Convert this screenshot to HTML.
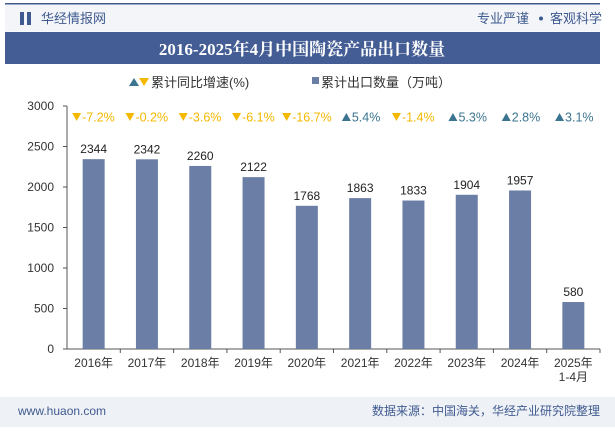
<!DOCTYPE html>
<html><head><meta charset="utf-8"><style>
body{margin:0;width:615px;height:427px;overflow:hidden;background:#fff;font-family:"Liberation Sans","Noto Sans CJK SC",sans-serif;}
#wrap{position:relative;width:615px;height:427px;}
</style></head><body>
<div id="wrap">
<svg id="svg" width="615" height="427" xmlns="http://www.w3.org/2000/svg" font-family="Liberation Sans, Noto Sans CJK SC, sans-serif">
<rect x="0" y="0" width="615" height="427" fill="#fff"/>
<rect x="5" y="3" width="595" height="1.5" fill="#3f5a8f"/>
<rect x="5" y="4.5" width="595" height="27" fill="#f3f5f9"/>
<g><rect x="20" y="12" width="4" height="13" fill="#3f5a8f"/><rect x="27" y="12" width="4" height="13" fill="#3f5a8f"/></g>
<text x="41" y="23" font-size="13" fill="#3f5a8f">华经情报网</text>
<text x="477" y="23" font-size="13" fill="#3f5a8f">专业严谨</text>
<circle cx="541" cy="18.5" r="2" fill="#3f5a8f"/>
<text x="550" y="23" font-size="13" fill="#3f5a8f">客观科学</text>
<rect x="5" y="32" width="595" height="32" fill="#445d95"/>
<text x="302" y="55" font-size="17" font-weight="bold" fill="#fff" text-anchor="middle" font-family="Liberation Serif, Noto Serif CJK SC, serif">2016-2025年4月中国陶瓷产品出口数量</text>
<g>
<polygon points="153,100 158,92 163,100" fill="#3b7491" transform="translate(-24,-14)"/>
<polygon points="139,78 149,78 144,86" fill="#f5b800"/>
<text x="151" y="87" font-size="13" fill="#333">累计同比增速(%)</text>
<rect x="312" y="77" width="7" height="7" fill="#6b7fa6"/>
<text x="321" y="87" font-size="13" fill="#333">累计出口数量（万吨）</text>
</g>
<g id="plot"></g>
<rect x="0" y="397" width="615" height="30" fill="#eef1f6"/>
<text x="18" y="415" font-size="12" fill="#3f5a8f">www.huaon.com</text>
<text x="600" y="415" font-size="12" fill="#3f5a8f" text-anchor="end">数据来源：中国海关，华经产业研究院整理</text>
</svg>
</div>
<script>
const categories=["2016年","2017年","2018年","2019年","2020年","2021年","2022年","2023年","2024年","2025年"];
const volumes=[2344,2342,2260,2122,1768,1863,1833,1904,1957,580];
const growth=[-7.2,-0.2,-3.6,-6.1,-16.7,5.4,-1.4,5.3,2.8,3.1];
const yTicks=[0,500,1000,1500,2000,2500,3000];
const NS="http://www.w3.org/2000/svg";
const x0=67,x1=600,y0=349,yTop=106,yMax=3000;
const band=(x1-x0)/categories.length;
const xs=i=>x0+band*(i+0.5);
const ys=v=>y0-(v/yMax)*(y0-yTop);
const g=document.getElementById('plot');
function mk(t,a,txt){const e=document.createElementNS(NS,t);for(const k in a)e.setAttribute(k,a[k]);if(txt!=null)e.textContent=txt;g.appendChild(e);return e;}
let ax=mk('line',{x1:x0,y1:yTop,x2:x0,y2:y0,stroke:'#555'});


let xa=mk('line',{x1:x0,y1:y0,x2:x1,y2:y0,stroke:'#555'});


yTicks.forEach(v=>{
 mk('line',{x1:x0-4,y1:ys(v),x2:x0,y2:ys(v),stroke:'#555'});
 const t=mk('text',{x:x0-13,y:ys(v)+4,'font-size':12,fill:'#333','text-anchor':'end'},v);
 
 
});
categories.forEach((c,i)=>{
 const cx=xs(i);
 mk('line',{x1:x0+band*(i+1),y1:y0,x2:x0+band*(i+1),y2:y0+4,stroke:'#555'});
 const b=mk('rect',{x:cx-11,y:ys(volumes[i]),width:22,height:y0-ys(volumes[i]),fill:'#6b7fa6'});
 
 
 const vl=mk('text',{x:cx,y:ys(volumes[i])-6,'font-size':12,fill:'#222','text-anchor':'middle'},volumes[i]);
 
 
 const xl=mk('text',{x:cx,y:y0+18,'font-size':12,fill:'#333','text-anchor':'middle'},c);
 
 
 if(i===categories.length-1){const s=mk('text',{x:cx,y:y0+32,'font-size':12,fill:'#333','text-anchor':'middle'},'1-4月');}
 const up=growth[i]>=0, col=up?'#3b7491':'#f5b800';
 const gy=117, txt=growth[i]+'%';
 const w=txt.length*6.4+11, sx=cx-w/2;
 const tri=mk('polygon',{points:up?`${sx},${gy+4} ${sx+4.5},${gy-4} ${sx+9},${gy+4}`:`${sx},${gy-4} ${sx+9},${gy-4} ${sx+4.5},${gy+4}`,fill:col});
 
 
 const gt=mk('text',{x:sx+10,y:gy+4.5,'font-size':12.5,fill:col},txt);
 
 
});
</script>
</body></html>
